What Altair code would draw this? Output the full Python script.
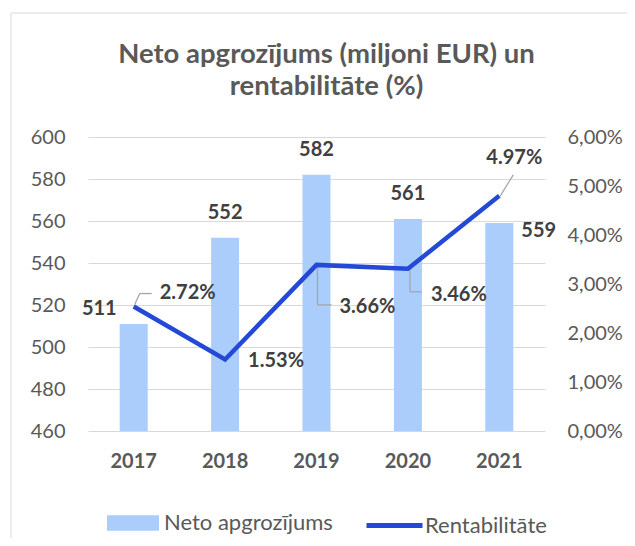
import altair as alt
import pandas as pd

# ---- data ----
years = ["2017", "2018", "2019", "2020", "2021"]
revenue = [511, 552, 582, 561, 559]                 # Neto apgrozījums (milj. EUR)
profitability = [2.54, 1.46, 3.39, 3.31, 4.80]      # line as drawn (% on right axis)
profit_labels = ["2.72%", "1.53%", "3.66%", "3.46%", "4.97%"]
revenue_ticks = [460, 480, 500, 520, 540, 560, 580, 600]
pct_ticks = [0, 1, 2, 3, 4, 5, 6]
series_names = ["Neto apgrozījums", "Rentabilitāte"]
title_lines = ["Neto apgrozījums (miljoni EUR) un", "rentabilitāte (%)"]

df = pd.DataFrame({"year": years, "revenue": revenue, "pct": profitability,
                   "pct_label": profit_labels})
df["rev_label"] = df["revenue"].astype(str)
frame_df = pd.DataFrame({"k": [0]})

FONT = "Lato"
GREY = "#595959"
DARK = "#404040"
BAR = "#aacdfc"
LINE = "#2349d6"
LEAD = "#a6a6a6"

x = alt.X("year:N", scale=alt.Scale(paddingInner=0, paddingOuter=0),
          axis=alt.Axis(title=None, labelAngle=0, labelFont=FONT, labelFontSize=20,
                        labelFontWeight="bold", labelColor=GREY, labelPadding=20,
                        domain=False, ticks=False, grid=False))
y_rev = alt.Y("revenue:Q", scale=alt.Scale(domain=[460, 600], zero=False, nice=False),
              axis=alt.Axis(values=revenue_ticks, title=None, orient="left", grid=True,
                            gridColor="#d9d9d9", gridWidth=1, domain=False, ticks=False,
                            labelFont=FONT, labelFontSize=20, labelColor=GREY,
                            labelPadding=23))
y_pct = alt.Y("pct:Q", scale=alt.Scale(domain=[0, 6], nice=False),
              axis=alt.Axis(values=pct_ticks, title=None, orient="right", grid=False,
                            domain=False, ticks=False, labelFont=FONT, labelFontSize=20,
                            labelColor=GREY, labelPadding=22,
                            labelExpr="replace(format(datum.value, '.2f'), '.', ',') + '%'"))

base = alt.Chart(df)

# frame of the chart area (top and left edges)
frame_top = alt.Chart(frame_df).mark_rule(color="#d9d9d9", strokeWidth=1).encode(
    x=alt.value(-77), x2=alt.value(539), y=alt.value(-124))
frame_left = alt.Chart(frame_df).mark_rule(color="#d9d9d9", strokeWidth=1).encode(
    x=alt.value(-77), y=alt.value(-124), y2=alt.value(405))

bars = base.transform_calculate(series=f"'{series_names[0]}'").mark_bar(size=28).encode(
    x=x, y=y_rev, y2=alt.Y2(datum=460),
    fill=alt.Fill("series:N", scale=alt.Scale(domain=[series_names[0]], range=[BAR]),
                  legend=alt.Legend(title=None, orient="none", legendX=19, legendY=360,
                                    symbolType="M-1,-0.3H1V0.3H-1Z", symbolSize=2704,
                                    symbolStrokeWidth=0, labelFont=FONT, labelFontSize=22,
                                    labelColor=GREY, labelOffset=5, labelLimit=400)))

def bar_label(sel, **kw):
    return base.transform_filter(alt.FieldOneOfPredicate(field="year", oneOf=sel)).mark_text(
        font=FONT, fontSize=20, fontWeight="bold", color=DARK, baseline="middle", **kw
    ).encode(x=x, y=y_rev, text="rev_label:N")

lab_mid = bar_label(["2018", "2019", "2020"], align="center", dy=-25)
lab_2017 = bar_label(["2017"], align="right", dx=-17, dy=-15)
lab_2021 = bar_label(["2021"], align="left", dx=22, dy=8)

left = alt.layer(frame_top, frame_left, bars, lab_mid, lab_2017, lab_2021)

line = base.transform_calculate(series=f"'{series_names[1]}'").mark_line(strokeWidth=4.5).encode(
    x=x, y=y_pct,
    stroke=alt.Stroke("series:N", scale=alt.Scale(domain=[series_names[1]], range=[LINE]),
                      legend=alt.Legend(title=None, orient="none", legendX=276, legendY=358,
                                        symbolType="stroke", symbolSize=3136,
                                        symbolStrokeWidth=5, labelFont=FONT,
                                        labelFontSize=22, labelColor=GREY, labelOffset=0,
                                        labelLimit=400)))

def pct_label(year, **kw):
    return base.transform_filter(alt.datum.year == year).mark_text(
        font=FONT, fontSize=20, fontWeight="bold", color=DARK, baseline="middle", **kw
    ).encode(x=x, y=y_pct, text="pct_label:N")

def leader(year, x1, y1, x2, y2):
    return base.transform_filter(alt.datum.year == year).mark_rule(
        color=LEAD, strokeWidth=1.3, xOffset=x1, yOffset=y1, x2Offset=x2, y2Offset=y2
    ).encode(x=x, x2=alt.X2("year"), y=y_pct, y2=alt.Y2("pct"))

right = alt.layer(
    leader("2017", 1, -2, 6, -13), leader("2017", 6, -13, 18, -13),
    leader("2019", 1, 0, 1, 40), leader("2019", 1, 40, 15, 40),
    leader("2020", 2, 0, 2, 23), leader("2020", 2, 23, 14, 23),
    leader("2021", 1, 0, 14, -21),
    line,
    pct_label("2017", align="left", dx=26, dy=-14),
    pct_label("2018", align="left", dx=23, dy=2),
    pct_label("2019", align="left", dx=23, dy=42),
    pct_label("2020", align="left", dx=23, dy=26),
    pct_label("2021", align="center", dx=15, dy=-38),
)

chart = alt.layer(left, right).resolve_scale(y="independent").properties(
    width=457, height=294,
    padding={"left": 80, "top": 129, "right": 82, "bottom": 107},
    autosize=alt.AutoSizeParams(type="none"),
    title=alt.TitleParams(text=title_lines, font=FONT, fontSize=27.5, fontWeight="bold",
                          color=GREY, lineHeight=32, offset=-88, dx=10, anchor="middle"),
    background="white",
).configure_view(stroke=None)

chart.save("out.html", embed_options={"renderer": "svg", "actions": False})
